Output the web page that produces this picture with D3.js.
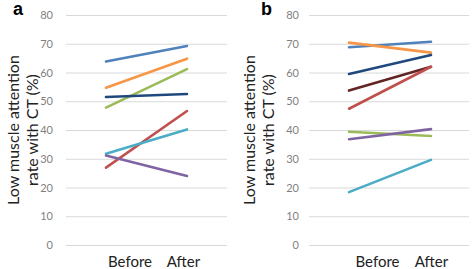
<!DOCTYPE html>
<html>
<head>
<meta charset="utf-8">
<script src="https://cdn.jsdelivr.net/npm/d3@7"></script>
<style>
  body { margin: 0; background: #fff; }
  svg { display: block; }
  .tick text { fill: #7f7f7f; font-family: Lato, 'Open Sans', sans-serif; font-size: 11px; }
  .cat text { fill: #222; font-family: Lato, 'Open Sans', sans-serif; font-size: 15px; }
  .ylabel { fill: #222; font-family: Lato, 'Open Sans', sans-serif; font-size: 16px; }
  .panel-letter { font-family: 'Liberation Sans', Arial, sans-serif; font-weight: bold; font-size: 18px; }
</style>
</head>
<body>
<svg></svg>
<script>
const categories = ['Before', 'After'];
const yTicks = [0, 10, 20, 30, 40, 50, 60, 70, 80];

// panel a
const aBefore = [63.8, 54.7, 47.8, 51.5, 26.9, 31.7, 31.1];
const aAfter  = [69.2, 64.8, 61.2, 52.5, 46.6, 40.2, 24.0];
const aColors = ['#4f81bd', '#f79646', '#9bbb59', '#1f497d', '#c0504d', '#4bacc6', '#8064a2'];

// panel b
const bBefore = [68.8, 70.4, 59.5, 53.7, 47.4, 39.4, 36.8, 18.4];
const bAfter  = [70.7, 66.9, 66.1, 62.0, 62.0, 37.9, 40.3, 29.6];
const bColors = ['#4f81bd', '#f79646', '#1f497d', '#632523', '#c0504d', '#9bbb59', '#8064a2', '#4bacc6'];

const width = 472;
const height = 269;

const svg = d3.select('svg')
	.attr('width', width)
	.attr('height', height);

const yScale = d3.scaleLinear()
	.domain([0, 80])
	.range([245, 15]);

function drawPanel(offset, letter, before, after, colors, o) {
	const g = svg.append('g')
		.attr('transform', `translate(${offset},0)`);

	// gridlines + tick labels
	const yAxis = d3.axisLeft(yScale)
		.tickValues(yTicks)
		.tickSize(-(o.gridRight - o.gridLeft))
		.tickPadding(o.gridLeft - o.labelRight);

	const yAxisGroup = g.append('g')
		.attr('transform', `translate(${o.gridLeft},0)`)
		.call(yAxis);
	yAxisGroup.select('.domain').remove();
	yAxisGroup.selectAll('.tick line')
		.attr('stroke', '#d9d9d9')
		.attr('stroke-width', 1);

	// lines
	const xScale = d3.scalePoint()
		.domain(categories)
		.range([o.lineLeft, o.lineRight]);

	const line = d3.line()
		.x(d => xScale(d.cat))
		.y(d => yScale(d.value));

	const series = before.map((b, i) => [
		{ cat: categories[0], value: b },
		{ cat: categories[1], value: after[i] }
	]);

	g.selectAll('path.series').data(series)
		.enter().append('path')
			.attr('class', 'series')
			.attr('d', line)
			.attr('fill', 'none')
			.attr('stroke', (d, i) => colors[i])
			.attr('stroke-width', 2.6)
			.attr('stroke-linecap', 'round');

	// category labels
	const labelScale = d3.scalePoint()
		.domain(categories)
		.range(o.labelRange);

	g.append('g').attr('class', 'cat')
		.selectAll('text').data(categories)
		.enter().append('text')
			.attr('x', d => labelScale(d))
			.attr('y', 267)
			.attr('text-anchor', 'middle')
			.text(d => d);

	// y label
	const yl = g.append('text')
		.attr('class', 'ylabel')
		.attr('transform', `translate(0,130) rotate(-90)`)
		.attr('text-anchor', 'middle');
	yl.append('tspan').attr('x', 0).attr('y', 19).text('Low muscle attention');
	yl.append('tspan').attr('x', 0).attr('y', 38).text('rate with CT (%)');

	g.append('text')
		.attr('class', 'panel-letter')
		.attr('x', o.letterX)
		.attr('y', 15)
		.text(letter);
}

drawPanel(0, 'a', aBefore, aAfter, aColors, {
	gridLeft: 66, gridRight: 227, labelRight: 53,
	lineLeft: 106, lineRight: 187,
	labelRange: [130, 183.5], letterX: 13
});

drawPanel(236, 'b', bBefore, bAfter, bColors, {
	gridLeft: 73, gridRight: 233, labelRight: 63,
	lineLeft: 113, lineRight: 195,
	labelRange: [141.5, 195.5], letterX: 25
});
</script>
</body>
</html>
